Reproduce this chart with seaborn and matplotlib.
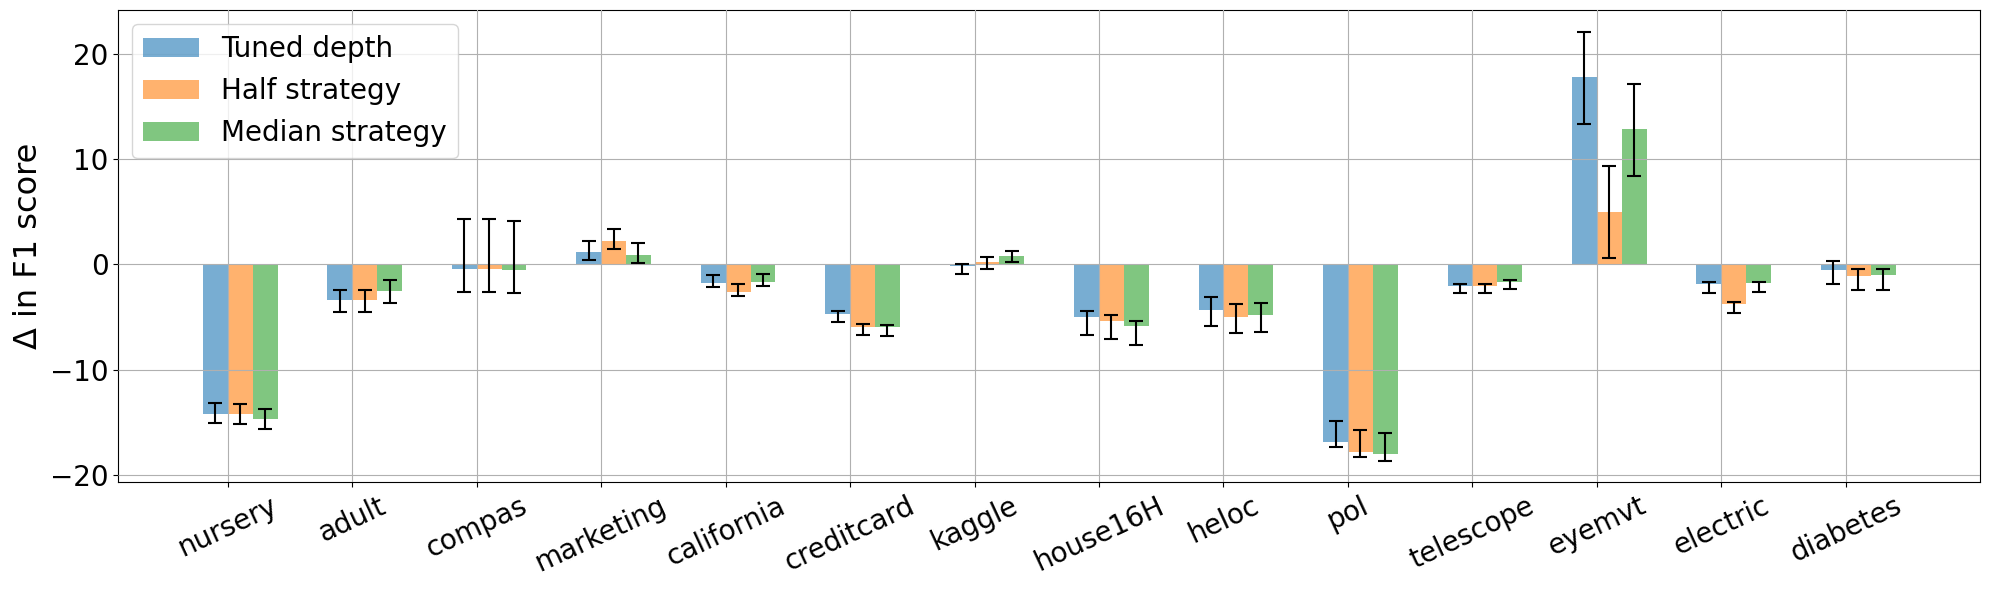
import numpy as np
import pandas as pd
import seaborn as sns
import matplotlib
matplotlib.use("Agg")
import matplotlib.pyplot as plt
from matplotlib.patches import Patch

categories = ["nursery", "adult", "compas", "marketing", "california", "creditcard", "kaggle",
              "house16H", "heloc", "pol", "telescope", "eyemvt", "electric", "diabetes"]
series_names = ["Tuned depth", "Half strategy", "Median strategy"]

# bar heights
tuned = [-14.2, -3.35, -0.4, 1.15, -1.75, -4.75, -0.2, -5.05, -4.3, -16.85, -2.1, 17.8, -1.85, -0.5]
half = [-14.2, -3.35, -0.4, 2.2, -2.6, -6.0, 0.2, -5.4, -5.05, -17.8, -2.1, 4.95, -3.8, -1.15]
median = [-14.7, -2.5, -0.5, 0.9, -1.65, -6.0, 0.8, -5.9, -4.85, -18.05, -1.65, 12.85, -1.75, -1.05]

# error bar ends (low / high)
tuned_lo = [-15.1, -4.5, -2.65, 0.4, -2.15, -5.45, -0.95, -6.7, -5.85, -17.4, -2.75, 13.3, -2.75, -1.85]
tuned_hi = [-13.2, -2.4, 4.3, 2.25, -1.05, -4.45, 0.05, -4.45, -3.1, -14.9, -1.85, 22.1, -1.7, 0.3]
half_lo = [-15.2, -4.5, -2.65, 1.45, -3.0, -6.7, -0.4, -7.1, -6.5, -18.35, -2.75, 0.6, -4.6, -2.45]
half_hi = [-13.3, -2.4, 4.3, 3.35, -1.9, -5.7, 0.65, -4.8, -3.75, -15.75, -1.85, 9.35, -3.6, -0.4]
median_lo = [-15.65, -3.65, -2.75, 0.1, -2.1, -6.8, 0.2, -7.65, -6.4, -18.65, -2.35, 8.4, -2.6, -2.45]
median_hi = [-13.75, -1.5, 4.15, 2.0, -0.95, -5.75, 1.25, -5.4, -3.7, -16.05, -1.5, 17.15, -1.65, -0.4]

values = [tuned, half, median]
lows = [tuned_lo, half_lo, median_lo]
highs = [tuned_hi, half_hi, median_hi]

colors = sns.color_palette("tab10")[:3]
bar_w = 0.2
idx = np.arange(len(categories))
shift = 0.1  # bar groups sit slightly right of the tick

rows = []
for name, vals in zip(series_names, values):
    for i, v in enumerate(vals):
        rows.append({"pos": idx[i] + shift, "delta": v, "method": name})
df = pd.DataFrame(rows)

fig, ax = plt.subplots(figsize=(19.9, 5.9), dpi=100)
sns.barplot(data=df, x="pos", y="delta", hue="method", hue_order=series_names,
            palette=colors, native_scale=True, width=0.6, errorbar=None,
            saturation=1, alpha=0.6, linewidth=0, ax=ax, legend=False)

offsets = [-bar_w, 0, bar_w]
for k in range(3):
    v = np.array(values[k])
    yerr = np.vstack([v - np.array(lows[k]), np.array(highs[k]) - v])
    ax.errorbar(idx + shift + offsets[k], v, yerr=yerr, fmt="none",
                ecolor="black", elinewidth=1.5, capsize=5, capthick=1.5, zorder=3)

ax.set_xticks(idx)
ax.set_xticklabels(categories, rotation=25, ha="center", fontsize=20)
ax.tick_params(axis="y", labelsize=20)
ax.set_xlim(-0.88, 14.08)
ax.set_xlabel("")
ax.set_ylabel("Δ in F1 score", fontsize=23)
ax.grid(True, color="#b0b0b0", linewidth=0.8)
ax.set_axisbelow(False)

handles = [Patch(facecolor=c, alpha=0.6, label=n) for c, n in zip(colors, series_names)]
ax.legend(handles=handles, loc="upper left", fontsize=20)

plt.subplots_adjust(left=0.0594, right=0.9951, top=0.9825, bottom=0.183)
plt.savefig("out.png", dpi=100)
plt.close()
